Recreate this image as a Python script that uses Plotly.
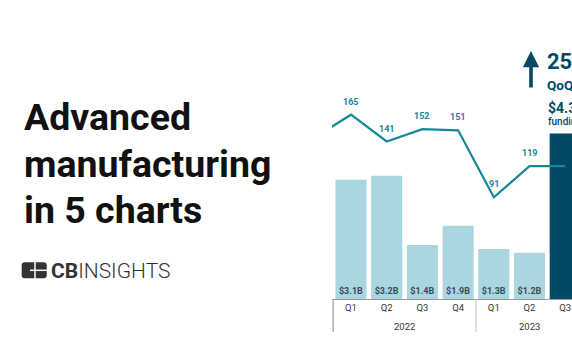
import plotly.graph_objects as go

# ---- data ----
categories = ["Q4 2021", "Q1 2022", "Q2 2022", "Q3 2022", "Q4 2022",
              "Q1 2023", "Q2 2023", "Q3 2023"]
quarter_labels = ["Q4", "Q1", "Q2", "Q3", "Q4", "Q1", "Q2", "Q3"]
year_of = ["2021", "2022", "2022", "2022", "2022", "2023", "2023", "2023"]
funding_b = [None, 3.1, 3.2, 1.4, 1.9, 1.3, 1.2, 4.3]
deals = [145, 165, 141, 152, 151, 91, 119, 119]
title_lines = ["Advanced", "manufacturing", "in 5 charts"]
callout_pct = "258%"
callout_sub = "QoQ"
callout_amt = "$4.3B"
callout_amt_sub = "funding"

W, H = 572, 364
PLOT_BOTTOM = 299  # px from top
PLOT_LEFT = 332

LIGHT = "#a9d6df"
DARK = "#004a66"
TEAL = "#16889a"
LABEL = "#3b4b56"

def px(x):
    return x / W

def py(y):
    return (PLOT_BOTTOM - y) / PLOT_BOTTOM

n = len(categories)
bar_colors = [LIGHT] * (n - 1) + [DARK]
bar_text = [("" if (v is None or i == n - 1) else f"${v}B") for i, v in enumerate(funding_b)]

fig = go.Figure()
fig.add_trace(go.Bar(
    x=categories, y=funding_b, marker=dict(color=bar_colors, line=dict(width=0)),
    width=0.87, text=bar_text, textposition="inside", insidetextanchor="start",
    textangle=0, constraintext="none",
    textfont=dict(family="Roboto", size=9, color=LABEL, weight="bold"),
    hoverinfo="skip", showlegend=False,
))
fig.add_trace(go.Scatter(
    x=categories, y=deals, yaxis="y2", mode="lines",
    line=dict(color=TEAL, width=2.2),
    hoverinfo="skip", showlegend=False,
))

annotations = []
# line value labels (skip the first, off-plot, and the last, hidden by the callout)
for i, (c, v) in enumerate(zip(categories, deals)):
    if i in (0, n - 1):
        continue
    annotations.append(dict(
        text=f"<b>{v}</b>", x=c, y=v, xref="x", yref="y2", yshift=13,
        xanchor="center", yanchor="middle", showarrow=False,
        font=dict(family="Roboto", size=9, color=TEAL),
    ))
# title
for i, t in enumerate(title_lines):
    annotations.append(dict(
        text=t, x=px(21.5), y=py([117.5, 163.5, 209.5][i]), xref="paper", yref="paper",
        xanchor="left", yanchor="middle", showarrow=False,
        font=dict(family="Roboto", size=37.5, color="#111111", weight="bold"),
    ))
# logo text
annotations.append(dict(
    text="<b>CB</b>INSIGHTS", x=px(48.5), y=py(270.5), xref="paper", yref="paper",
    xanchor="left", yanchor="middle", showarrow=False,
    font=dict(family="Roboto", size=21, color="#333333", weight=300),
))
# year labels
groups = []
for yr in ["2022", "2023"]:
    idx = [i for i, y in enumerate(year_of) if y == yr]
    groups.append((yr, (idx[0] + idx[-1]) / 2))
for yr, xc in groups:
    annotations.append(dict(
        text=yr, x=xc, y=py(326), xref="x", yref="paper", xanchor="center",
        yanchor="middle", showarrow=False,
        font=dict(family="Roboto", size=9.5, color="#333333"),
    ))
# callout
annotations.append(dict(
    text="", x=px(531), y=py(51), ax=0, ay=38, xref="paper", yref="paper",
    showarrow=True, arrowhead=2, arrowsize=0.9, arrowwidth=3.6, arrowcolor=DARK,
))
annotations.append(dict(text=f"<b>{callout_pct}</b>", x=px(545), y=py(62), xref="paper", yref="paper",
                        xanchor="left", yanchor="middle", showarrow=False,
                        font=dict(family="Roboto", size=22, color=DARK)))
annotations.append(dict(text=f"<b>{callout_sub}</b>", x=px(545), y=py(85), xref="paper", yref="paper",
                        xanchor="left", yanchor="middle", showarrow=False,
                        font=dict(family="Roboto", size=13.5, color=DARK)))
annotations.append(dict(text=f"<b>{callout_amt}</b>", x=px(545.5), y=py(107.5), xref="paper", yref="paper",
                        xanchor="left", yanchor="middle", showarrow=False,
                        font=dict(family="Roboto", size=14, color=DARK)))
annotations.append(dict(text=callout_amt_sub, x=px(546), y=py(121.5), xref="paper", yref="paper",
                        xanchor="left", yanchor="middle", showarrow=False,
                        font=dict(family="Roboto", size=10, color=DARK, weight=500)))

shapes = []
# group dividers
for xb, col in [(0.5, "#999999"), (4.5, "#cccccc")]:
    shapes.append(dict(type="line", x0=xb, x1=xb, y0=0, y1=py(332), xref="x", yref="paper",
                       line=dict(color=col, width=1.2)))
# logo icon: rounded rect with white cross
x0, x1, y0, y1, r = 21.7, 46.7, 262.3, 278.3, 3.0
path = (f"M {px(x0+r)},{py(y0)} L {px(x1-r)},{py(y0)} Q {px(x1)},{py(y0)} {px(x1)},{py(y0+r)} "
        f"L {px(x1)},{py(y1-r)} Q {px(x1)},{py(y1)} {px(x1-r)},{py(y1)} "
        f"L {px(x0+r)},{py(y1)} Q {px(x0)},{py(y1)} {px(x0)},{py(y1-r)} "
        f"L {px(x0)},{py(y0+r)} Q {px(x0)},{py(y0)} {px(x0+r)},{py(y0)} Z")
shapes.append(dict(type="path", path=path, xref="paper", yref="paper",
                   fillcolor="#333333", line=dict(width=0)))
shapes.append(dict(type="line", x0=px(35), x1=px(35), y0=py(y0 - 0.5), y1=py(y1 + 0.5),
                   xref="paper", yref="paper", line=dict(color="white", width=1.5)))
shapes.append(dict(type="line", x0=px(30), x1=px(x1 + 0.5), y0=py(270.3), y1=py(270.3),
                   xref="paper", yref="paper", line=dict(color="white", width=1.5)))

fig.update_layout(
    width=W, height=H, margin=dict(l=0, r=0, t=0, b=H - PLOT_BOTTOM),
    paper_bgcolor="white", plot_bgcolor="white",
    bargap=0.13,
    xaxis=dict(type="category", categoryorder="array", categoryarray=categories,
               domain=[px(PLOT_LEFT), 1], range=[0.468, 7.19],
               tickvals=categories, ticktext=quarter_labels, ticks="",
               showline=True, linecolor="#999999", linewidth=1, showgrid=False,
               tickfont=dict(family="Roboto", size=9.5, color="#333333")),
    yaxis=dict(range=[0, PLOT_BOTTOM / 38.5], visible=False, showgrid=False, zeroline=False),
    yaxis2=dict(range=[0, PLOT_BOTTOM / 1.117], overlaying="y", visible=False,
                showgrid=False, zeroline=False),
    annotations=annotations, shapes=shapes,
)

fig.write_html(
    "out.html",
    config={"displayModeBar": False, "staticPlot": True},
    post_script="document.documentElement.style.margin='0';document.body.style.margin='0';"
                "document.body.style.padding='0';document.body.style.overflow='hidden';",
)
